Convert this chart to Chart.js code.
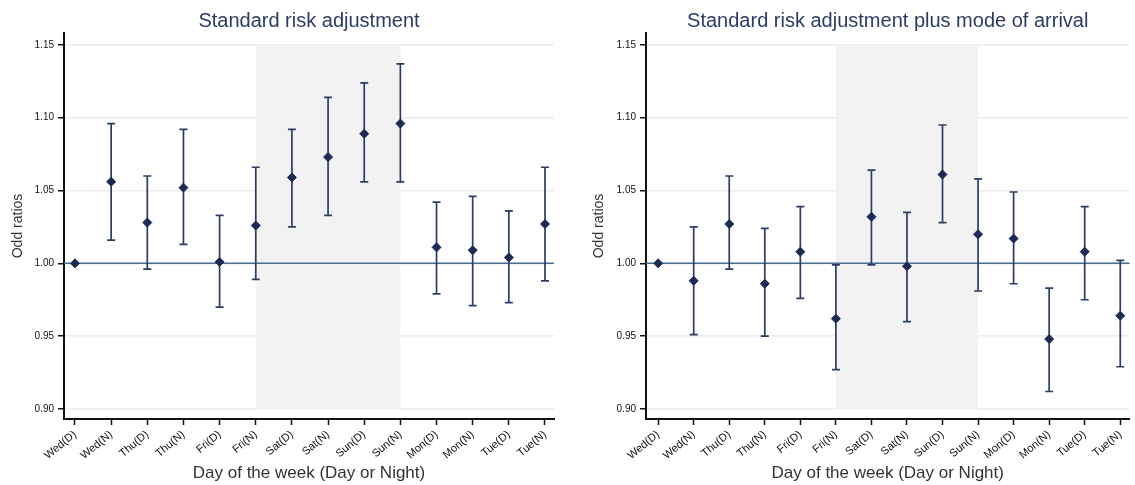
<!DOCTYPE html>
<html>
<head>
<meta charset="utf-8">
<script src="https://cdn.jsdelivr.net/npm/chart.js@4.4.1/dist/chart.umd.min.js"></script>
<style>
body { margin: 0; background: #fff; }
#wrap { position: relative; width: 1135px; height: 485px; }
#left { position: absolute; left: 0; top: 0; }
#right { position: absolute; left: 567px; top: 0; }
</style>
</head>
<body>
<div id="wrap">
<canvas id="left" width="567" height="485"></canvas>
<canvas id="right" width="568" height="485"></canvas>
</div>
<script>

var days = ['Wed(D)', 'Wed(N)', 'Thu(D)', 'Thu(N)', 'Fri(D)', 'Fri(N)', 'Sat(D)', 'Sat(N)', 'Sun(D)', 'Sun(N)', 'Mon(D)', 'Mon(N)', 'Tue(D)', 'Tue(N)'];
var yTicks = [0.90, 0.95, 1.00, 1.05, 1.10, 1.15];

// standard risk adjustment
var orStd = [1.000, 1.056, 1.028, 1.052, 1.001, 1.026, 1.059, 1.073, 1.089, 1.096, 1.011, 1.009, 1.004, 1.027];
var lowStd = [null, 1.016, 0.996, 1.013, 0.970, 0.989, 1.025, 1.033, 1.056, 1.056, 0.979, 0.971, 0.973, 0.988];
var upStd = [null, 1.096, 1.060, 1.092, 1.033, 1.066, 1.092, 1.114, 1.124, 1.137, 1.042, 1.046, 1.036, 1.066];

// plus mode of arrival
var orMode = [1.000, 0.988, 1.027, 0.986, 1.008, 0.962, 1.032, 0.998, 1.061, 1.020, 1.017, 0.948, 1.008, 0.964];
var lowMode = [null, 0.951, 0.996, 0.950, 0.976, 0.927, 0.999, 0.960, 1.028, 0.981, 0.986, 0.912, 0.975, 0.929];
var upMode = [null, 1.025, 1.060, 1.024, 1.039, 0.999, 1.064, 1.035, 1.095, 1.058, 1.049, 0.983, 1.039, 1.002];

var shadeFrom = 'Fri(N)';
var shadeTo = 'Sun(N)';
var refValue = 1.00;

var font = '"Liberation Sans", Arial, sans-serif';

// weekend shading, line at 1 and the CI whiskers
var extras = {
	id: 'extras',
	beforeDatasetsDraw: function(chart, args, opts) {
		var c = chart.ctx;
		var x = chart.scales.x;
		var y = chart.scales.y;
		var a = chart.chartArea;
		var x0 = x.getPixelForValue(days.indexOf(shadeFrom));
		var x1 = x.getPixelForValue(days.indexOf(shadeTo));
		var yTop = y.getPixelForValue(yTicks[yTicks.length - 1]);
		var yBot = y.getPixelForValue(yTicks[0]);
		c.save();
		c.fillStyle = '#f2f2f2';
		c.fillRect(x0, yTop, x1 - x0, yBot - yTop);

		c.strokeStyle = '#4a6d96';
		c.lineWidth = 1.5;
		c.beginPath();
		var yr = y.getPixelForValue(refValue);
		c.moveTo(a.left, yr);
		c.lineTo(a.right, yr);
		c.stroke();

		c.strokeStyle = '#2d3d68';
		c.lineWidth = 1.7;
		for (var i = 0; i < days.length; i++) {
			if (opts.low[i] == null) continue;
			var px = x.getPixelForValue(i);
			var pl = y.getPixelForValue(opts.low[i]);
			var pu = y.getPixelForValue(opts.up[i]);
			c.beginPath();
			c.moveTo(px, pl);
			c.lineTo(px, pu);
			c.moveTo(px - 4, pl);
			c.lineTo(px + 4, pl);
			c.moveTo(px - 4, pu);
			c.lineTo(px + 4, pu);
			c.stroke();
		}
		c.restore();
	}
};

function makeChart(id, title, vals, low, up, yWidth, yTitlePad, xMin, xMax, padRight) {
	var pts = vals.map(function(v, i) { return {x: i, y: v}; });
	return new Chart(document.getElementById(id), {
		type: 'scatter',
		data: {
			datasets: [{
				data: pts,
				pointStyle: 'rectRot',
				pointRadius: 4.5,
				pointHoverRadius: 4.5,
				backgroundColor: '#1c2a55',
				borderColor: '#1c2a55',
				borderWidth: 1
			}]
		},
		options: {
			responsive: false,
			animation: false,
			layout: { padding: { left: 0, right: padRight, top: 0, bottom: 0 } },
			plugins: {
				legend: { display: false },
				tooltip: { enabled: false },
				title: {
					display: true,
					text: title,
					fullSize: false,
					color: '#2e3b66',
					font: { family: font, size: 20, weight: 'normal' },
					padding: { top: 9, bottom: 0 }
				},
				extras: { low: low, up: up }
			},
			scales: {
				x: {
					type: 'linear',
					min: xMin,
					max: xMax,
					afterBuildTicks: function(s) {
						s.ticks = days.map(function(d, i) { return {value: i}; });
					},
					afterFit: function(s) {
						s.height = 66;
						s.paddingLeft = 0;
						s.paddingRight = 0;
					},
					border: { color: '#111', width: 2 },
					grid: { drawOnChartArea: false, drawTicks: true, tickLength: 6, tickColor: '#111', tickWidth: 1.5 },
					ticks: {
						autoSkip: false,
						minRotation: 40,
						maxRotation: 40,
						padding: 3,
						color: '#111',
						font: { family: font, size: 11 },
						callback: function(v) { return days[v]; }
					},
					title: {
						display: true,
						text: 'Day of the week (Day or Night)',
						color: '#333',
						font: { family: font, size: 17 },
						padding: { top: 0, bottom: 1 }
					}
				},
				y: {
					min: 0.8931,
					max: 1.1582,
					afterBuildTicks: function(s) {
						s.ticks = yTicks.map(function(v) { return {value: v}; });
					},
					afterFit: function(s) {
						s.width = yWidth;
						s.paddingTop = 0;
						s.paddingBottom = 0;
					},
					border: { color: '#111', width: 2 },
					grid: { color: '#ececec', lineWidth: 1.5, drawTicks: true, tickLength: 6, tickColor: '#111', tickWidth: 1.5 },
					ticks: {
						padding: 4,
						color: '#111',
						font: { family: font, size: 10 },
						callback: function(v) { return v.toFixed(2); }
					},
					title: {
						display: true,
						text: 'Odd ratios',
						color: '#333',
						font: { family: font, size: 14 },
						padding: { top: yTitlePad, bottom: 0 }
					}
				}
			}
		},
		plugins: [extras]
	});
}

var chartLeft = makeChart('left', 'Standard risk adjustment', orStd, lowStd, upStd, 64, 9.6, -0.304, 13.249, 13);
var chartRight = makeChart('right', 'Standard risk adjustment plus mode of arrival', orMode, lowMode, upMode, 79, 23.6, -0.342, 13.26, 0);

</script>
</body>
</html>
